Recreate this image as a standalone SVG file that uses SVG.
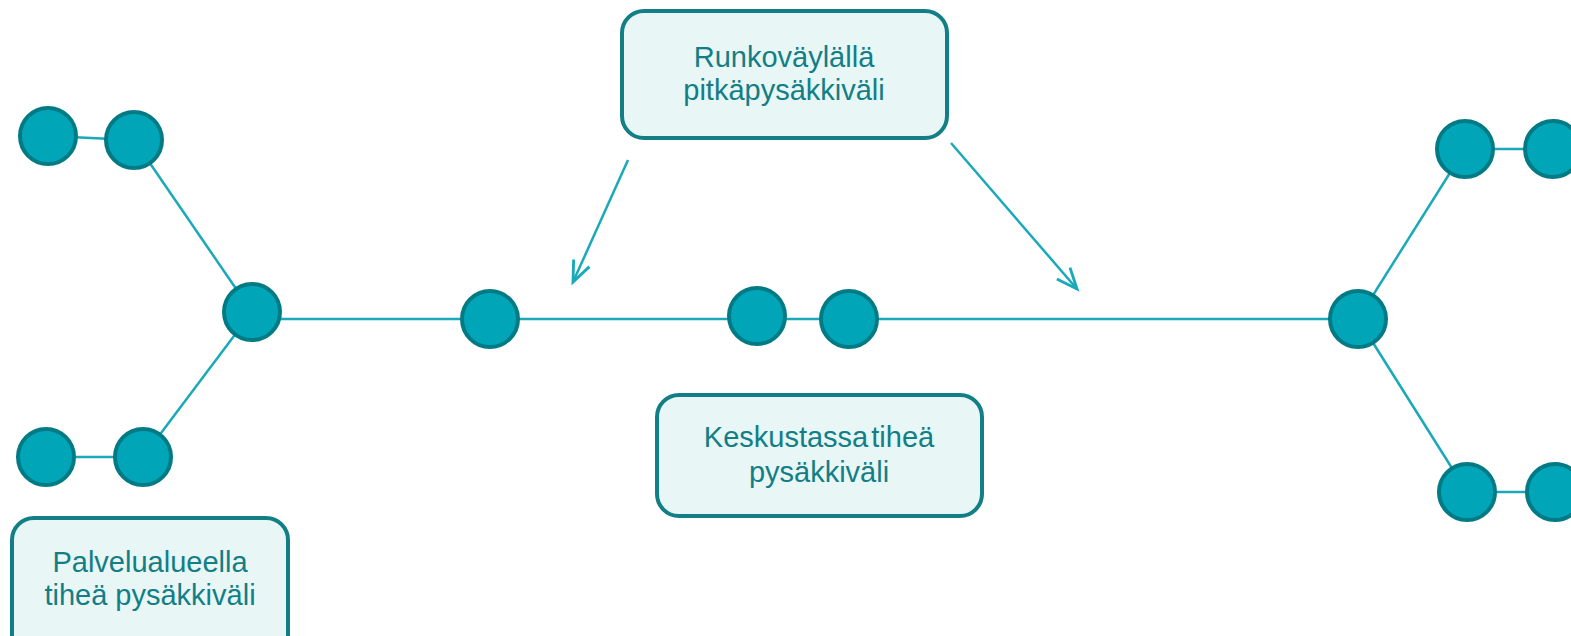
<svg xmlns="http://www.w3.org/2000/svg" width="1571" height="636" viewBox="0 0 1571 636">
<defs>
<style>
.stop{fill:#00a6b7;stroke:#007b86;stroke-width:4}
.ln{stroke:#1aa9b9;stroke-width:2.5;fill:none}
.box{fill:#e8f6f6;stroke:#127e85;stroke-width:4}
.lbl{font-family:"Liberation Sans",Arial,sans-serif;font-size:29px;fill:#127e85;text-anchor:middle}
</style>
<marker id="arr" markerUnits="userSpaceOnUse" markerWidth="30" markerHeight="30" refX="0" refY="0" viewBox="-22 -12 26 24" orient="auto">
<path d="M-18,-7.5 L0,0 L-18,7.5" fill="none" stroke="#1aa9b9" stroke-width="2.5" stroke-linejoin="miter"/>
</marker>
</defs>
<rect width="1571" height="636" fill="#ffffff"/>
<g id="connectors">
<line class="ln" x1="48" y1="136" x2="134" y2="140"/>
<line class="ln" x1="134" y1="140" x2="252" y2="312"/>
<line class="ln" x1="252" y1="312" x2="143" y2="457"/>
<line class="ln" x1="46" y1="457" x2="143" y2="457"/>
<line class="ln" x1="252" y1="319" x2="1358" y2="319"/>
<line class="ln" x1="1358" y1="319" x2="1465" y2="149"/>
<line class="ln" x1="1358" y1="319" x2="1467" y2="492"/>
<line class="ln" x1="1465" y1="149" x2="1553" y2="149"/>
<line class="ln" x1="1467" y1="492" x2="1555" y2="492"/>
<line class="ln" x1="628" y1="160" x2="573" y2="282" marker-end="url(#arr)"/>
<line class="ln" x1="951" y1="143" x2="1077" y2="289" marker-end="url(#arr)"/>
</g>
<g id="stopA"><circle class="stop" cx="48" cy="136" r="28"/></g>
<g id="stopB"><circle class="stop" cx="134" cy="140" r="28"/></g>
<g id="stopC"><circle class="stop" cx="252" cy="312" r="28"/></g>
<g id="stopD"><circle class="stop" cx="46" cy="457" r="28"/></g>
<g id="stopE"><circle class="stop" cx="143" cy="457" r="28"/></g>
<g id="stopF"><circle class="stop" cx="490" cy="319" r="28"/></g>
<g id="stopG"><circle class="stop" cx="757" cy="316" r="28"/></g>
<g id="stopH"><circle class="stop" cx="849" cy="319" r="28"/></g>
<g id="stopI"><circle class="stop" cx="1358" cy="319" r="28"/></g>
<g id="stopJ"><circle class="stop" cx="1465" cy="149" r="28"/></g>
<g id="stopK"><circle class="stop" cx="1553" cy="149" r="28"/></g>
<g id="stopL"><circle class="stop" cx="1467" cy="492" r="28"/></g>
<g id="stopM"><circle class="stop" cx="1555" cy="492" r="28"/></g>
<g id="boxTop">
<rect class="box" x="622" y="11" width="325" height="127" rx="22"/>
<text class="lbl" x="784" y="67">Runkoväylällä</text>
<text class="lbl" x="784" y="100">pitkäpysäkkiväli</text>
</g>
<g id="boxMid">
<rect class="box" x="657" y="395" width="325" height="121" rx="22"/>
<text class="lbl" x="819" y="447" word-spacing="-5">Keskustassa tiheä</text>
<text class="lbl" x="819" y="482">pysäkkiväli</text>
</g>
<g id="boxLeft">
<rect class="box" x="12" y="518" width="276" height="140" rx="22"/>
<text class="lbl" x="150" y="572">Palvelualueella</text>
<text class="lbl" x="150" y="605">tiheä pysäkkiväli</text>
</g>
</svg>
